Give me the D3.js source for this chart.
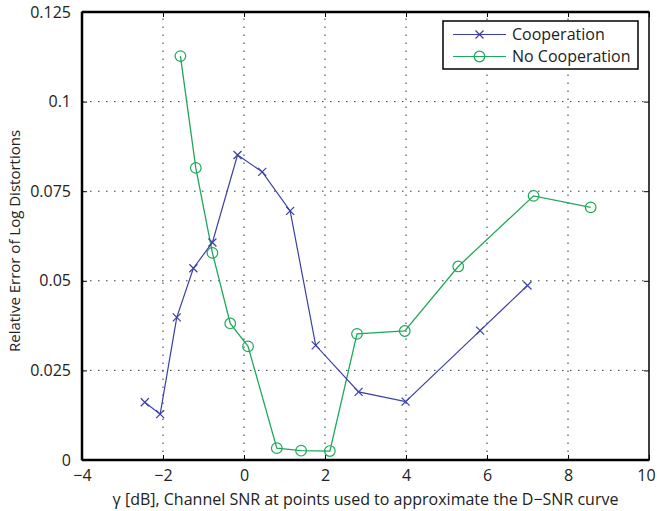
<!DOCTYPE html>
<html>
<head>
<meta charset="utf-8">
<script src="https://cdn.jsdelivr.net/npm/d3@7"></script>
<style>
  body { margin: 0; background: #fff; }
  text { font-family: "Open Sans", sans-serif; fill: #222; }
</style>
</head>
<body>
<div id="chart"></div>
<script>
// data
var coopX   = [-2.45, -2.07, -1.66, -1.25, -0.78, -0.16, 0.45, 1.14, 1.77, 2.83, 3.99, 5.83, 7.0];
var coopY   = [0.0161, 0.0128, 0.0398, 0.0535, 0.0607, 0.0851, 0.0804, 0.0695, 0.0320, 0.0190, 0.0163, 0.0361, 0.0487];
var noCoopX = [-1.57, -1.19, -0.78, -0.34, 0.10, 0.81, 1.41, 2.12, 2.79, 3.97, 5.29, 7.15, 8.56];
var noCoopY = [0.1127, 0.0815, 0.0578, 0.0381, 0.0317, 0.0033, 0.0026, 0.0025, 0.0352, 0.0360, 0.0540, 0.0737, 0.0705];
var xTicks = [-4, -2, 0, 2, 4, 6, 8, 10];
var yTicks = [0, 0.025, 0.05, 0.075, 0.1, 0.125];
var yTickLabels = ["0", "0.025", "0.05", "0.075", "0.1", "0.125"];
var seriesNames = ["Cooperation", "No Cooperation"];

var W = 657, H = 511;
var pLeft = 82, pTop = 12, pRight = 649, pBottom = 460;
var blue = "#3a3fa6", green = "#1fa85a";

var svg = d3.select("#chart").append("svg")
  .attr("width", W).attr("height", H);

var x = d3.scaleLinear().domain([-4, 10]).range([pLeft, pRight]);
var y = d3.scaleLinear().domain([0, 0.125]).range([pBottom, pTop]);

// grid
var grid = svg.append("g").attr("stroke", "#333").attr("stroke-width", 1)
  .attr("stroke-dasharray", "1.5,6.5");
grid.selectAll(".gx").data(xTicks.slice(1, -1)).enter().append("line")
  .attr("x1", d => x(d)).attr("x2", d => x(d))
  .attr("y1", pBottom).attr("y2", pTop);
grid.selectAll(".gy").data(yTicks.slice(1, -1)).enter().append("line")
  .attr("y1", d => y(d)).attr("y2", d => y(d))
  .attr("x1", pLeft).attr("x2", pRight);

// axes, ticks inside like matlab
var xAxis = svg.append("g").attr("transform", "translate(0," + pBottom + ")")
  .call(d3.axisBottom(x).tickValues(xTicks).tickSize(-5).tickPadding(10)
    .tickFormat(d => d < 0 ? "\u2212" + Math.abs(d) : d));
var xTop = svg.append("g").attr("transform", "translate(0," + pTop + ")")
  .call(d3.axisTop(x).tickValues(xTicks).tickSize(-5).tickFormat(""));
var yAxis = svg.append("g").attr("transform", "translate(" + pLeft + ",0)")
  .call(d3.axisLeft(y).tickValues(yTicks).tickSize(-5).tickPadding(11)
    .tickFormat((d, i) => yTickLabels[i]));
var yRight = svg.append("g").attr("transform", "translate(" + pRight + ",0)")
  .call(d3.axisRight(y).tickValues(yTicks).tickSize(-5).tickFormat(""));

[xAxis, xTop, yAxis, yRight].forEach(function(g) {
  g.select(".domain").remove();
  g.selectAll(".tick line").attr("stroke", "#000").attr("stroke-width", 1);
  g.selectAll("text").style("font-size", "16px").style("font-family", "'Open Sans', sans-serif").attr("fill", "#222");
});
// keep the last label inside the page
xAxis.selectAll(".tick text").filter(d => d == 10).attr("dx", -3);

// box
svg.append("rect").attr("x", pLeft).attr("y", pTop)
  .attr("width", pRight - pLeft).attr("height", pBottom - pTop)
  .attr("fill", "none").attr("stroke", "#000").attr("stroke-width", 1.5);
svg.append("line").attr("x1", pLeft).attr("x2", pRight).attr("y1", pBottom).attr("y2", pBottom)
  .attr("stroke", "#000").attr("stroke-width", 2.5);
svg.append("line").attr("x1", pLeft).attr("x2", pLeft).attr("y1", pTop).attr("y2", pBottom)
  .attr("stroke", "#000").attr("stroke-width", 2.5);
svg.append("line").attr("x1", pLeft).attr("x2", pRight).attr("y1", pTop).attr("y2", pTop)
  .attr("stroke", "#000").attr("stroke-width", 2.5);

var line = d3.line().x(d => x(d[0])).y(d => y(d[1]));
var coop = coopX.map((v, i) => [v, coopY[i]]);
var noCoop = noCoopX.map((v, i) => [v, noCoopY[i]]);

function drawCross(g, px, py, c) {
  var s = 4;
  g.append("path")
    .attr("d", "M" + (px - s) + "," + (py - s) + "L" + (px + s) + "," + (py + s) +
               "M" + (px - s) + "," + (py + s) + "L" + (px + s) + "," + (py - s))
    .attr("stroke", c).attr("stroke-width", 1.2).attr("fill", "none");
}
function drawCircle(g, px, py, c) {
  g.append("circle").attr("cx", px).attr("cy", py).attr("r", 5.3)
    .attr("stroke", c).attr("stroke-width", 1.2).attr("fill", "none");
}

svg.append("path").datum(noCoop).attr("d", line)
  .attr("fill", "none").attr("stroke", green).attr("stroke-width", 1.3);
svg.append("path").datum(coop).attr("d", line)
  .attr("fill", "none").attr("stroke", blue).attr("stroke-width", 1.2);

var marks = svg.append("g");
noCoop.forEach(d => drawCircle(marks, x(d[0]), y(d[1]), green));
coop.forEach(d => drawCross(marks, x(d[0]), y(d[1]), blue));

// legend
var lg = svg.append("g");
lg.append("rect").attr("x", 443).attr("y", 21).attr("width", 195).attr("height", 48)
  .attr("fill", "#fff").attr("stroke", "#000").attr("stroke-width", 1.5);
var rows = [{ name: seriesNames[0], c: blue, m: "x", y: 34.5 },
            { name: seriesNames[1], c: green, m: "o", y: 56.5 }];
rows.forEach(function(r) {
  lg.append("line").attr("x1", 453).attr("x2", 506).attr("y1", r.y).attr("y2", r.y)
    .attr("stroke", r.c).attr("stroke-width", 1.2);
  if (r.m == "x") drawCross(lg, 479.5, r.y, r.c); else drawCircle(lg, 479.5, r.y, r.c);
  lg.append("text").attr("x", 512).attr("y", r.y).attr("dy", "0.35em")
    .style("font-size", "16px").text(r.name);
});

// axis labels
svg.append("text").attr("x", (pLeft + pRight) / 2).attr("y", 505)
  .attr("text-anchor", "middle").style("font-size", "16px")
  .text("\u03b3 [dB],  Channel SNR at points used to approximate the D\u2212SNR curve");
svg.append("text").attr("transform", "translate(20," + ((pTop + pBottom) / 2 + 5) + ") rotate(-90)")
  .attr("text-anchor", "middle").style("font-size", "15px")
  .text("Relative Error of Log Distortions");
</script>
</body>
</html>
